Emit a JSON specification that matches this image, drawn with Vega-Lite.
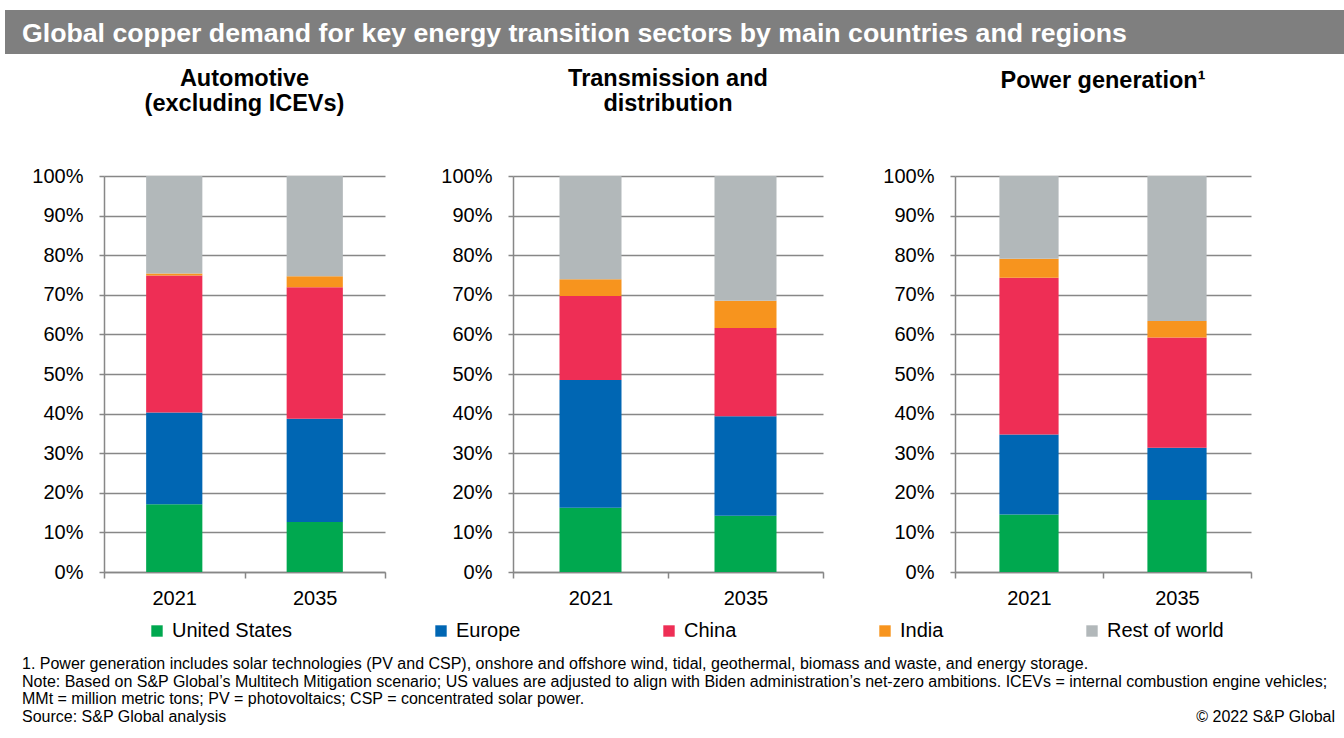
{
  "$schema": "https://vega.github.io/schema/vega-lite/v6.json",
  "padding": {"left": 5, "top": 10, "right": 0, "bottom": 0},
  "background": "white",
  "config": {
    "font": "Liberation Sans",
    "view": {"stroke": null},
    "axis": {"labelFont": "Liberation Sans", "labelFontSize": 20, "labelColor": "#000000", "title": null},
    "title": {"font": "Liberation Sans", "color": "#000000"}
  },
  "data": {
    "values": [
      {"panel": "auto", "year": "2021", "region": "United States", "k": 1, "value": 17.1},
      {"panel": "auto", "year": "2021", "region": "Europe", "k": 2, "value": 23.2},
      {"panel": "auto", "year": "2021", "region": "China", "k": 3, "value": 34.6},
      {"panel": "auto", "year": "2021", "region": "India", "k": 4, "value": 0.5},
      {"panel": "auto", "year": "2021", "region": "Rest of world", "k": 5, "value": 24.6},
      {"panel": "auto", "year": "2035", "region": "United States", "k": 1, "value": 12.6},
      {"panel": "auto", "year": "2035", "region": "Europe", "k": 2, "value": 26.1},
      {"panel": "auto", "year": "2035", "region": "China", "k": 3, "value": 33.2},
      {"panel": "auto", "year": "2035", "region": "India", "k": 4, "value": 2.8},
      {"panel": "auto", "year": "2035", "region": "Rest of world", "k": 5, "value": 25.3},
      {"panel": "td", "year": "2021", "region": "United States", "k": 1, "value": 16.2},
      {"panel": "td", "year": "2021", "region": "Europe", "k": 2, "value": 32.3},
      {"panel": "td", "year": "2021", "region": "China", "k": 3, "value": 21.2},
      {"panel": "td", "year": "2021", "region": "India", "k": 4, "value": 4.2},
      {"panel": "td", "year": "2021", "region": "Rest of world", "k": 5, "value": 26.1},
      {"panel": "td", "year": "2035", "region": "United States", "k": 1, "value": 14.2},
      {"panel": "td", "year": "2035", "region": "Europe", "k": 2, "value": 25.1},
      {"panel": "td", "year": "2035", "region": "China", "k": 3, "value": 22.3},
      {"panel": "td", "year": "2035", "region": "India", "k": 4, "value": 6.9},
      {"panel": "td", "year": "2035", "region": "Rest of world", "k": 5, "value": 31.5},
      {"panel": "pg", "year": "2021", "region": "United States", "k": 1, "value": 14.5},
      {"panel": "pg", "year": "2021", "region": "Europe", "k": 2, "value": 20.2},
      {"panel": "pg", "year": "2021", "region": "China", "k": 3, "value": 39.6},
      {"panel": "pg", "year": "2021", "region": "India", "k": 4, "value": 4.8},
      {"panel": "pg", "year": "2021", "region": "Rest of world", "k": 5, "value": 20.9},
      {"panel": "pg", "year": "2035", "region": "United States", "k": 1, "value": 18.2},
      {"panel": "pg", "year": "2035", "region": "Europe", "k": 2, "value": 13.2},
      {"panel": "pg", "year": "2035", "region": "China", "k": 3, "value": 27.8},
      {"panel": "pg", "year": "2035", "region": "India", "k": 4, "value": 4.2},
      {"panel": "pg", "year": "2035", "region": "Rest of world", "k": 5, "value": 36.6}
    ]
  },
  "spacing": 12,
  "vconcat": [
    {
      "width": 1339,
      "height": 44,
      "view": {"fill": "#7f7f7f", "stroke": null},
      "data": {"values": [{"t": "Global copper demand for key energy transition sectors by main countries and regions"}]},
      "mark": {"type": "text", "align": "left", "baseline": "alphabetic", "color": "#ffffff", "fontSize": 26.7, "fontWeight": "bold", "font": "Liberation Sans"},
      "encoding": {"text": {"field": "t", "type": "nominal"}, "x": {"value": 17}, "y": {"value": 32}}
    },
    {
      "spacing": 0,
      "hconcat": [
        {
          "width": 25,
          "height": 10,
          "data": {"values": [{"t": ""}]},
          "mark": {"type": "text"},
          "encoding": {"text": {"field": "t", "type": "nominal"}}
        },
        {
          "width": 281,
          "height": 396,
          "title": {"text": ["Automotive", "(excluding ICEVs)"], "fontSize": 23.5, "fontWeight": "bold", "anchor": "middle", "frame": "group", "baseline": "alphabetic", "lineHeight": 25, "offset": 32},
          "transform": [{"filter": "datum.panel === 'auto'"}],
          "mark": {"type": "bar", "width": {"band": 0.4}},
          "encoding": {
            "x": {"field": "year", "type": "ordinal", "scale": {"paddingInner": 0, "paddingOuter": 0},
              "axis": {"labelAngle": 0, "tickBand": "extent", "tickSize": 6, "tickColor": "#878787", "tickWidth": 1.5, "domainColor": "#878787", "domainWidth": 1.5, "labelPadding": 10, "grid": false}},
            "y": {"field": "value", "type": "quantitative", "stack": "normalize", "scale": {"domain": [0, 1]},
              "axis": {"values": [0, 0.1, 0.2, 0.3, 0.4, 0.5, 0.6, 0.7, 0.8, 0.9, 1], "format": ".0%", "grid": true, "gridColor": "#878787", "gridWidth": 1.5, "tickSize": 5, "tickColor": "#878787", "tickWidth": 1.5, "domainColor": "#878787", "domainWidth": 1.5, "labelPadding": 16, "minExtent": 74}},
            "color": {"field": "region", "type": "nominal",
              "scale": {"domain": ["United States", "Europe", "China", "India", "Rest of world"], "range": ["#00A84F", "#0066B3", "#EE2E55", "#F7941E", "#B2B8BA"]},
              "legend": {"orient": "none", "legendX": 142, "legendY": 611, "direction": "horizontal", "title": null, "columnPadding": 138, "labelFontSize": 20, "labelFont": "Liberation Sans", "labelColor": "#000000", "symbolType": "square", "symbolSize": 130, "symbolStrokeWidth": 0, "labelOffset": 5}},
            "order": {"field": "k", "type": "quantitative"}
          }
        },
        {
          "width": 310,
          "height": 396,
          "title": {"text": ["Transmission and", "distribution"], "fontSize": 23.5, "fontWeight": "bold", "anchor": "middle", "frame": "group", "baseline": "alphabetic", "lineHeight": 25, "offset": 32},
          "transform": [{"filter": "datum.panel === 'td'"}],
          "mark": {"type": "bar", "width": {"band": 0.4}},
          "encoding": {
            "x": {"field": "year", "type": "ordinal", "scale": {"paddingInner": 0, "paddingOuter": 0},
              "axis": {"labelAngle": 0, "tickBand": "extent", "tickSize": 6, "tickColor": "#878787", "tickWidth": 1.5, "domainColor": "#878787", "domainWidth": 1.5, "labelPadding": 10, "grid": false}},
            "y": {"field": "value", "type": "quantitative", "stack": "normalize", "scale": {"domain": [0, 1]},
              "axis": {"values": [0, 0.1, 0.2, 0.3, 0.4, 0.5, 0.6, 0.7, 0.8, 0.9, 1], "format": ".0%", "grid": true, "gridColor": "#878787", "gridWidth": 1.5, "tickSize": 5, "tickColor": "#878787", "tickWidth": 1.5, "domainColor": "#878787", "domainWidth": 1.5, "labelPadding": 16, "minExtent": 127}},
            "color": {"field": "region", "type": "nominal",
              "scale": {"domain": ["United States", "Europe", "China", "India", "Rest of world"], "range": ["#00A84F", "#0066B3", "#EE2E55", "#F7941E", "#B2B8BA"]},
              "legend": {"orient": "none", "legendX": 142, "legendY": 611, "direction": "horizontal", "title": null, "columnPadding": 138, "labelFontSize": 20, "labelFont": "Liberation Sans", "labelColor": "#000000", "symbolType": "square", "symbolSize": 130, "symbolStrokeWidth": 0, "labelOffset": 5}},
            "order": {"field": "k", "type": "quantitative"}
          }
        },
        {
          "width": 296,
          "height": 396,
          "title": {"text": "Power generation¹", "fontSize": 23.5, "fontWeight": "bold", "anchor": "middle", "frame": "group", "baseline": "alphabetic", "offset": 55},
          "transform": [{"filter": "datum.panel === 'pg'"}],
          "mark": {"type": "bar", "width": {"band": 0.4}},
          "encoding": {
            "x": {"field": "year", "type": "ordinal", "scale": {"paddingInner": 0, "paddingOuter": 0},
              "axis": {"labelAngle": 0, "tickBand": "extent", "tickSize": 6, "tickColor": "#878787", "tickWidth": 1.5, "domainColor": "#878787", "domainWidth": 1.5, "labelPadding": 10, "grid": false}},
            "y": {"field": "value", "type": "quantitative", "stack": "normalize", "scale": {"domain": [0, 1]},
              "axis": {"values": [0, 0.1, 0.2, 0.3, 0.4, 0.5, 0.6, 0.7, 0.8, 0.9, 1], "format": ".0%", "grid": true, "gridColor": "#878787", "gridWidth": 1.5, "tickSize": 5, "tickColor": "#878787", "tickWidth": 1.5, "domainColor": "#878787", "domainWidth": 1.5, "labelPadding": 16, "minExtent": 131}},
            "color": {"field": "region", "type": "nominal",
              "scale": {"domain": ["United States", "Europe", "China", "India", "Rest of world"], "range": ["#00A84F", "#0066B3", "#EE2E55", "#F7941E", "#B2B8BA"]},
              "legend": {"orient": "none", "legendX": 142, "legendY": 611, "direction": "horizontal", "title": null, "columnPadding": 138, "labelFontSize": 20, "labelFont": "Liberation Sans", "labelColor": "#000000", "symbolType": "square", "symbolSize": 130, "symbolStrokeWidth": 0, "labelOffset": 5}},
            "order": {"field": "k", "type": "quantitative"}
          }
        }
      ]
    },
    {
      "width": 1339,
      "height": 110,
      "data": {"values": [{
        "note": "1. Power generation includes solar technologies (PV and CSP), onshore and offshore wind, tidal, geothermal, biomass and waste, and energy storage.\nNote: Based on S&P Global’s Multitech Mitigation scenario; US values are adjusted to align with Biden administration’s net-zero ambitions. ICEVs = internal combustion engine vehicles;\nMMt = million metric tons; PV = photovoltaics; CSP = concentrated solar power.\nSource: S&P Global analysis",
        "copy": "© 2022 S&P Global"
      }]},
      "layer": [
        {
          "mark": {"type": "text", "align": "left", "baseline": "top", "fontSize": 16, "lineHeight": 17.7, "lineBreak": "\n", "color": "#000000", "font": "Liberation Sans"},
          "encoding": {"text": {"field": "note", "type": "nominal"}, "x": {"value": 17}, "y": {"value": 36}}
        },
        {
          "mark": {"type": "text", "align": "right", "baseline": "top", "fontSize": 16, "color": "#000000", "font": "Liberation Sans", "dx": -9},
          "encoding": {"text": {"field": "copy", "type": "nominal"}, "x": {"value": "width"}, "y": {"value": 89}}
        }
      ]
    }
  ]
}
